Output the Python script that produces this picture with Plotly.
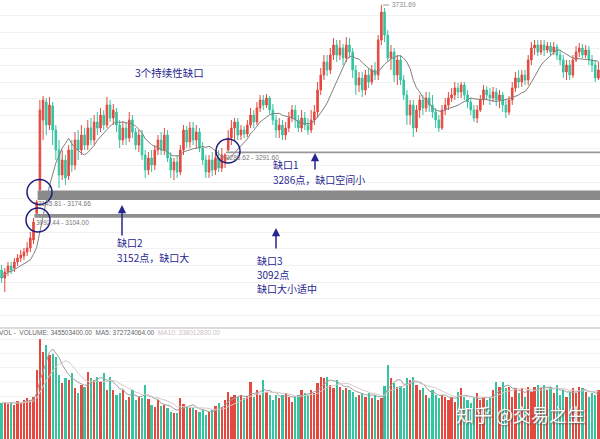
import plotly.graph_objects as go
import pandas as pd

# ---------------- data ----------------
opens = [2936,2912,2930,2948,2942,2960,2972,2978,2990,3002,
         3026,3106,3176,3386,3440,3371,3428,3356,3296,3221,
         3266,3218,3296,3251,3326,3296,3341,3311,3362,3326,
         3380,3362,3401,3371,3431,3392,3410,3371,3326,3362,
         3332,3386,3350,3311,3341,3281,3236,3272,3251,3296,
         3326,3296,3341,3272,3236,3260,3230,3296,3356,3320,
         3362,3326,3350,3302,3266,3230,3266,3236,3272,3242,
         3260,3296,3332,3362,3380,3341,3356,3344,3371,3401,
         3380,3422,3446,3431,3452,3416,3386,3356,3371,3341,
         3362,3392,3416,3386,3362,3392,3371,3356,3386,3410,
         3476,3521,3560,3536,3581,3611,3581,3602,3572,3611,
         3590,3536,3491,3512,3476,3521,3500,3536,3521,3626,
         3710,3641,3572,3590,3521,3566,3506,3461,3401,3431,
         3362,3416,3446,3422,3452,3431,3410,3386,3362,3416,
         3431,3452,3461,3482,3470,3491,3461,3440,3416,3392,
         3416,3446,3476,3461,3452,3470,3446,3461,3431,3410,
         3446,3482,3512,3500,3521,3506,3566,3602,3611,3590,
         3611,3596,3608,3590,3605,3581,3566,3530,3551,3521,
         3566,3590,3602,3581,3596,3566,3551,3512]
closes = [2912,2930,2948,2936,2960,2972,2981,2990,3002,3032,
          3080,3140,3416,3446,3371,3431,3356,3296,3221,3266,
          3212,3296,3251,3326,3296,3341,3311,3362,3326,3380,
          3362,3401,3371,3431,3392,3416,3371,3326,3362,3332,
          3386,3350,3311,3341,3281,3236,3272,3251,3296,3326,
          3296,3341,3272,3236,3260,3230,3296,3356,3320,3362,
          3326,3350,3302,3266,3230,3266,3236,3272,3242,3281,
          3281,3332,3362,3380,3341,3356,3344,3371,3401,3380,
          3422,3446,3431,3452,3416,3386,3356,3371,3341,3362,
          3392,3416,3386,3362,3392,3371,3356,3386,3410,3476,
          3521,3560,3536,3581,3611,3581,3602,3572,3611,3590,
          3536,3491,3512,3476,3521,3500,3536,3521,3626,3710,
          3641,3572,3590,3521,3566,3506,3461,3401,3431,3362,
          3416,3446,3422,3452,3431,3410,3386,3362,3416,3431,
          3452,3461,3482,3470,3491,3461,3440,3416,3392,3416,
          3446,3476,3461,3452,3470,3446,3461,3431,3410,3446,
          3482,3512,3500,3521,3506,3566,3602,3611,3590,3611,
          3596,3608,3590,3605,3581,3566,3530,3551,3521,3566,
          3590,3602,3581,3596,3566,3551,3512,3536]
highs = [2951,2942,2960,2960,2972,2984,2996,3002,3020,3050,
         3092.44,3145.81,3446,3458,3452,3455,3440,3371,3326,3296,
         3281,3311,3326,3350,3356,3371,3362,3386,3392,3401,
         3410,3422,3416,3455,3446,3434,3422,3386,3380,3380,
         3410,3401,3362,3356,3356,3296,3290,3296,3311,3341,
         3350,3362,3356,3290,3272,3281,3311,3371,3368,3380,
         3380,3371,3362,3320,3281,3281,3290,3296,3296,3302,
         3286.62,3356,3386,3392,3392,3371,3368,3386,3422,3416,
         3440,3461,3461,3464,3458,3434,3401,3392,3386,3380,
         3410,3431,3431,3401,3416,3410,3392,3416,3431,3500,
         3542,3581,3581,3602,3632,3626,3626,3614,3635,3632,
         3602,3551,3530,3530,3536,3542,3551,3560,3641,3731.69,
         3722,3656,3611,3602,3581,3581,3521,3476,3446,3446,
         3431,3461,3461,3470,3470,3461,3422,3401,3431,3452,
         3470,3482,3500,3497,3500,3500,3476,3452,3431,3431,
         3461,3491,3488,3482,3485,3482,3476,3470,3446,3458,
         3500,3530,3536,3536,3536,3581,3620,3626,3626,3626,
         3626,3620,3620,3620,3614,3596,3581,3566,3566,3581,
         3608,3617,3614,3611,3608,3581,3566,3560]
lows = [2897,2870,2918,2924,2930,2948,2960,2966,2978,2990,
        3014,3104.00,3174.66,3326,3341,3356,3311,3266,3182,3206,
        3191,3206,3230,3236,3266,3281,3296,3296,3311,3311,
        3341,3350,3356,3362,3380,3371,3350,3302,3311,3311,
        3320,3332,3296,3290,3266,3212,3221,3230,3236,3281,
        3281,3281,3260,3212,3206,3212,3221,3281,3302,3302,
        3311,3302,3290,3251,3212,3212,3218,3221,3230,3230,
        3242,3291.60,3311,3326,3326,3326,3332,3335,3362,3362,
        3371,3410,3416,3422,3404,3371,3332,3332,3326,3326,
        3350,3380,3362,3350,3350,3356,3341,3347,3371,3392,
        3461,3506,3518,3524,3566,3560,3566,3551,3560,3572,
        3512,3461,3470,3455,3461,3482,3491,3506,3506,3611,
        3620,3560,3536,3500,3491,3491,3446,3371,3371,3335,
        3350,3392,3401,3410,3410,3392,3362,3350,3356,3401,
        3416,3440,3446,3452,3452,3446,3422,3401,3380,3377,
        3410,3431,3446,3431,3440,3428,3422,3410,3392,3401,
        3431,3470,3482,3485,3491,3491,3551,3581,3578,3581,
        3578,3587,3581,3581,3566,3551,3512,3506,3506,3512,
        3560,3575,3572,3572,3551,3530,3500,3506]
# volume, millions of shares
volumes = [252,259,245,259,238,266,252,273,287,273,
           294,483,700,609,658,588,595,574,448,392,
           427,413,462,357,322,378,364,469,427,413,
           434,399,462,343,434,343,308,322,343,273,
           294,343,273,294,287,378,280,238,224,273,
           231,238,217,189,182,182,287,245,224,217,
           224,203,189,203,168,189,203,231,252,224,
           273,329,294,308,294,308,287,301,399,294,
           343,308,413,329,308,273,308,287,308,322,
           294,259,301,308,343,322,308,343,322,392,
           434,427,434,378,357,413,364,343,357,343,
           329,294,308,322,294,322,287,308,273,287,
           371,518,427,392,364,371,357,427,413,434,
           378,343,357,308,287,343,308,287,308,294,
           273,294,259,329,357,294,273,252,287,322,
           273,294,273,294,343,399,364,399,357,364,
           294,357,322,357,294,364,329,364,378,357,
           378,343,364,322,378,308,343,294,329,357,
           322,364,357,329,294,322,308,343]

# gaps: (candle index where the band starts, lower price, upper price)
gap_start = [70, 11, 10]
gap_low = [3286.62, 3145.81, 3092.44]
gap_high = [3291.60, 3174.66, 3104.00]
gap_text = ["3286.62 - 3291.60", "3145.81 - 3174.66", "3092.44 - 3104.00"]
peak_text = "3731.69"
vol_header = ("VOL -  VOLUME: 345503400.00  MA5: 372724064.00  "
              "<span style='color:#c9c0c0'>MA10: 338012800.00</span>")

# ---------------- styling ----------------
RED = "#e5483f"
GREEN = "#35c4a0"
NAVY = "#26268f"
CJK = "Noto Sans CJK SC"
W, H = 600, 439

def px(x):
    return x / W

def py(y):
    return 1 - y / H

n = len(closes)
idx = list(range(n))
ma_close = pd.Series(closes).rolling(10, min_periods=1).mean()
vol_s = pd.Series(volumes)
ma5_vol = vol_s.rolling(5, min_periods=1).mean()
ma10_vol = vol_s.rolling(10, min_periods=1).mean()
bar_colors = [RED if c >= o else GREEN for o, c in zip(opens, closes)]

fig = go.Figure()
fig.add_trace(go.Candlestick(
    x=idx, open=opens, high=highs, low=lows, close=closes,
    increasing=dict(line=dict(color=RED, width=1), fillcolor=RED),
    decreasing=dict(line=dict(color=GREEN, width=1), fillcolor=GREEN),
    whiskerwidth=0, xaxis="x", yaxis="y", showlegend=False))
fig.add_trace(go.Scatter(x=idx, y=ma_close, mode="lines",
                         line=dict(color="#808080", width=1),
                         xaxis="x", yaxis="y", showlegend=False))
fig.add_trace(go.Bar(x=idx, y=volumes, marker=dict(color=bar_colors, line_width=0),
                     width=0.7, xaxis="x2", yaxis="y2", showlegend=False))
fig.add_trace(go.Scatter(x=idx, y=ma5_vol, mode="lines",
                         line=dict(color="#a0a0a0", width=1),
                         xaxis="x2", yaxis="y2", showlegend=False))
fig.add_trace(go.Scatter(x=idx, y=ma10_vol, mode="lines",
                         line=dict(color="#d8c8c8", width=1),
                         xaxis="x2", yaxis="y2", showlegend=False))

shapes = []
annotations = []

# gap bands
band_colors = ["#999999", "#8a8a8a", "#8f8f8f"]
for s, lo, hi, col in zip(gap_start, gap_low, gap_high, band_colors):
    shapes.append(dict(type="rect", xref="x", yref="y", x0=s + 0.3, x1=n - 0.5,
                       y0=lo, y1=hi, fillcolor=col, line=dict(width=0), layer="above"))

# separator between panels
shapes.append(dict(type="line", xref="paper", yref="paper", x0=0, x1=1,
                   y0=py(328), y1=py(328), line=dict(color="#dcdcdc", width=2)))

# circles around gaps
for cx, cy, r in [(39.5, 192, 12.5), (38, 220, 12), (228, 151, 12)]:
    shapes.append(dict(type="circle", xref="paper", yref="paper",
                       x0=px(cx - r), x1=px(cx + r), y0=py(cy + r), y1=py(cy - r),
                       line=dict(color="#1c1c7a", width=1.5)))

# leader line to the peak label
shapes.append(dict(type="line", xref="paper", yref="paper", x0=px(383), x1=px(389),
                   y0=py(5), y1=py(5), line=dict(color="#999", width=1)))

def label(text, x, y, size=10, color=NAVY, family=CJK, xanchor="left"):
    annotations.append(dict(text=text, x=px(x), y=py(y), xref="paper", yref="paper",
                            xanchor=xanchor, yanchor="middle", showarrow=False,
                            font=dict(size=size, color=color, family=family)))

label("3个持续性缺口", 133, 73, 10.5)
label("缺口1", 271, 164)
label("3286点，缺口空间小", 271, 179.5)
label("缺口2", 115, 242)
label("3152点，缺口大", 115, 257.5)
label("缺口3", 255, 260)
label("3092点", 255, 274.5)
label("缺口大小适中", 255, 288.5)

# small value labels
small = "Liberation Sans"
label(gap_text[0], 224, 157, 6.5, "#777", small)
label(gap_text[1], 36, 203, 6.5, "#777", small)
label(gap_text[2], 34, 222.5, 6.5, "#777", small)
label(peak_text, 390, 5, 6.5, "#888", small)
label(vol_header, -3, 332, 6.5, "#666", small)

# arrows
for x, head, tail in [(315, 153, 171), (122, 205, 237), (276, 228, 250)]:
    annotations.append(dict(text="", x=px(x), y=py(head), xref="paper", yref="paper",
                            ax=0, ay=tail - head, axref="pixel", ayref="pixel",
                            showarrow=True, arrowhead=2, arrowsize=1.1, arrowwidth=1.5,
                            arrowcolor=NAVY))

# watermark
annotations.append(dict(text="知乎 @交易之生", x=px(520), y=py(414), xref="paper", yref="paper",
                        showarrow=False, xanchor="center", yanchor="middle",
                        font=dict(size=18, color="white", family=CJK,
                                  shadow="1px 1px 2px #555")))

axis_common = dict(showticklabels=False, zeroline=False, showline=False, ticks="")
fig.update_layout(
    width=W, height=H, margin=dict(l=0, r=0, t=0, b=0),
    paper_bgcolor="white", plot_bgcolor="white",
    showlegend=False, bargap=0, hovermode=False,
    xaxis=dict(domain=[0, 1], range=[-0.5, n - 0.5], anchor="y", showgrid=False,
               rangeslider=dict(visible=False), **axis_common),
    yaxis=dict(domain=[py(323), 1], range=[2777, 3746], anchor="x", showgrid=True,
               gridcolor="#f1f1f1", gridwidth=1, dtick=50, tick0=0, **axis_common),
    xaxis2=dict(domain=[0, 1], range=[-0.5, n - 0.5], anchor="y2", matches="x",
                showgrid=False, **axis_common),
    yaxis2=dict(domain=[0, py(328)], range=[0, 777], anchor="x2", showgrid=True,
                gridcolor="#f3f3f3", dtick=100, **axis_common),
    shapes=shapes, annotations=annotations,
)

fig.write_html(
    "out.html",
    config={"displayModeBar": False},
    post_script="document.body.style.margin='0';document.body.style.overflow='hidden';",
)
